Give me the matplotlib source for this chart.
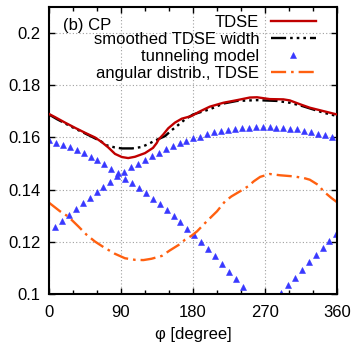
import numpy as np
import matplotlib
matplotlib.use("Agg")
import matplotlib.pyplot as plt
from matplotlib.ticker import MultipleLocator

plt.rcParams['font.family'] = ['Liberation Sans', 'DejaVu Sans']

# TDSE
tdse_phi = [0, 7.5, 20, 32.5, 45, 57.5, 66, 74, 82.5, 91, 99, 107.5, 120, 130, 134.5,
            137, 143, 149, 157.5, 166, 178, 188.7, 201, 218, 235, 251, 260, 276, 293,
            301, 314, 326, 343, 360]
tdse_val = [0.1690, 0.1678, 0.1657, 0.1637, 0.1618, 0.1600, 0.1582, 0.1562, 0.1537,
            0.1525, 0.1521, 0.1526, 0.1540, 0.1560, 0.1578, 0.1592, 0.1612, 0.1635,
            0.1657, 0.1672, 0.1682, 0.1700, 0.1718, 0.1733, 0.1743, 0.1753, 0.1754,
            0.1747, 0.1746, 0.1742, 0.1727, 0.1714, 0.1701, 0.1688]

# smoothed TDSE width
smooth_phi = [0, 10, 30, 50, 65, 72, 82, 91, 104, 115, 123, 132.5, 145, 153, 160, 170,
              180, 201, 218, 235, 260, 285, 301, 317, 343, 360]
smooth_val = [0.1688, 0.1670, 0.1638, 0.1608, 0.1585, 0.1570, 0.1562, 0.1558, 0.1558,
              0.1563, 0.1573, 0.1588, 0.1605, 0.1627, 0.1644, 0.1669, 0.1688, 0.1708,
              0.1730, 0.1740, 0.1743, 0.1740, 0.1733, 0.1720, 0.1695, 0.1682]

# tunneling model (three visible branches)
tunA_phi0, tunA_step = 0.0, 8.65
tunA_val = [0.1590, 0.1580, 0.1571, 0.1562, 0.1552, 0.1540, 0.1526, 0.1512, 0.1497,
            0.1480, 0.1462, 0.1442, 0.1425, 0.1407, 0.1387, 0.1366, 0.1345, 0.1323,
            0.1300, 0.1276, 0.1251, 0.1225, 0.1199, 0.1172, 0.1144, 0.1115, 0.1086,
            0.1057, 0.1027]
tunB_phi0, tunB_step = 7.5, 8.65
tunB_val = [0.1255, 0.1278, 0.1302, 0.1325, 0.1348, 0.1369, 0.1390, 0.1411, 0.1431,
            0.1451, 0.1467, 0.1486, 0.1499, 0.1515, 0.1528, 0.1541, 0.1554, 0.1567,
            0.1577, 0.1588, 0.1596, 0.1603, 0.1612, 0.1619, 0.1624, 0.1630, 0.1633,
            0.1636, 0.1638, 0.1641, 0.1641, 0.1641, 0.1638, 0.1637, 0.1633, 0.1631,
            0.1626, 0.1622, 0.1614, 0.1609, 0.1601]
tunC_phi0, tunC_step = 290.0, 8.65
tunC_val = [0.1003, 0.1033, 0.1063, 0.1091, 0.1121, 0.1149, 0.1177, 0.1203, 0.1230]

# angular distribution, TDSE
ang_phi = [0, 13.75, 24, 36.7, 47, 57.5, 68, 82.5, 95, 107.5, 118, 128, 141, 151, 162,
           170, 178, 185, 197, 210, 220, 228, 239, 249, 256, 264, 276, 289, 305, 318,
           326, 337, 343, 353, 360]
ang_val = [0.1350, 0.1317, 0.1297, 0.1259, 0.1227, 0.1201, 0.1180, 0.1154, 0.1137,
           0.1131, 0.1130, 0.1135, 0.1146, 0.1167, 0.1188, 0.1208, 0.1223, 0.1240,
           0.1278, 0.1317, 0.1355, 0.1374, 0.1394, 0.1413, 0.1432, 0.1449, 0.1460,
           0.1455, 0.1451, 0.1445, 0.1438, 0.1417, 0.1394, 0.1368, 0.1352]

x_ticks = [0, 90, 180, 270, 360]
y_ticks = [0.1, 0.12, 0.14, 0.16, 0.18, 0.2]
y_ticklabels = ["0.1", "0.12", "0.14", "0.16", "0.18", "0.2"]

FS = 12

fig = plt.figure(figsize=(3.52, 3.45), dpi=100)
ax = fig.add_axes([49/352, 1-294/345, 288/352, 287/345])

tri_color = '#3838ff'
def branch(phi0, step, vals):
    phi = phi0 + step*np.arange(len(vals))
    return phi, np.array(vals)

pa, va = branch(tunA_phi0, tunA_step, tunA_val)
pb, vb = branch(tunB_phi0, tunB_step, tunB_val)
pc, vc = branch(tunC_phi0, tunC_step, tunC_val)

ax.plot(tdse_phi, tdse_val, color='#c00000', lw=1.7, label='TDSE', zorder=4)
ax.plot(smooth_phi, smooth_val, color='black', lw=1.7,
        dashes=(6.4, 1.7, 1.1, 1.7, 1.1, 1.7, 1.1, 1.7), label='smoothed TDSE width', zorder=3)
ax.plot(pa, va, ls='none', marker='^', ms=4.6, color=tri_color, mec=tri_color, mew=0.4,
        label='tunneling model', zorder=2)
ax.plot(pb, vb, ls='none', marker='^', ms=4.6, color=tri_color, mec=tri_color, mew=0.4, zorder=2)
ax.plot(pc, vc, ls='none', marker='^', ms=4.6, color=tri_color, mec=tri_color, mew=0.4, zorder=2)
ax.plot(ang_phi, ang_val, color='#ff6010', lw=1.7, dashes=(6.4, 2.1, 1.1, 2.1),
        label='angular distrib., TDSE', zorder=2)

ax.set_xlim(0, 360)
ax.set_ylim(0.1, 0.21)
ax.set_xticks(x_ticks)
ax.set_yticks(y_ticks)
ax.set_yticklabels(y_ticklabels)
ax.xaxis.set_minor_locator(MultipleLocator(30))
ax.tick_params(which='both', direction='in', top=True, right=True, labelsize=FS)
ax.tick_params(which='major', length=4.5, width=1.0)
ax.tick_params(which='minor', length=2.8, width=1.0)
ax.tick_params(axis='x', pad=8)
ax.tick_params(axis='y', pad=6)
for s in ax.spines.values():
    s.set_linewidth(1.5)
ax.grid(True, which='major', color='#a0a0a0', lw=0.8, ls=(0, (1, 2)))
ax.set_axisbelow(True)

ax.set_xlabel('φ [degree]', fontsize=FS, labelpad=5)
ax.text(0.05, 0.935, '(b) CP', transform=ax.transAxes, fontsize=FS, ha='left', va='center')

leg = ax.legend(loc='upper right', bbox_to_anchor=(0.927, 0.972), frameon=False,
                markerfirst=False, fontsize=FS, handlelength=2.7, handletextpad=0.7,
                labelspacing=0.12, borderpad=0, borderaxespad=0, numpoints=1)

fig.savefig('out.png', dpi=100)
